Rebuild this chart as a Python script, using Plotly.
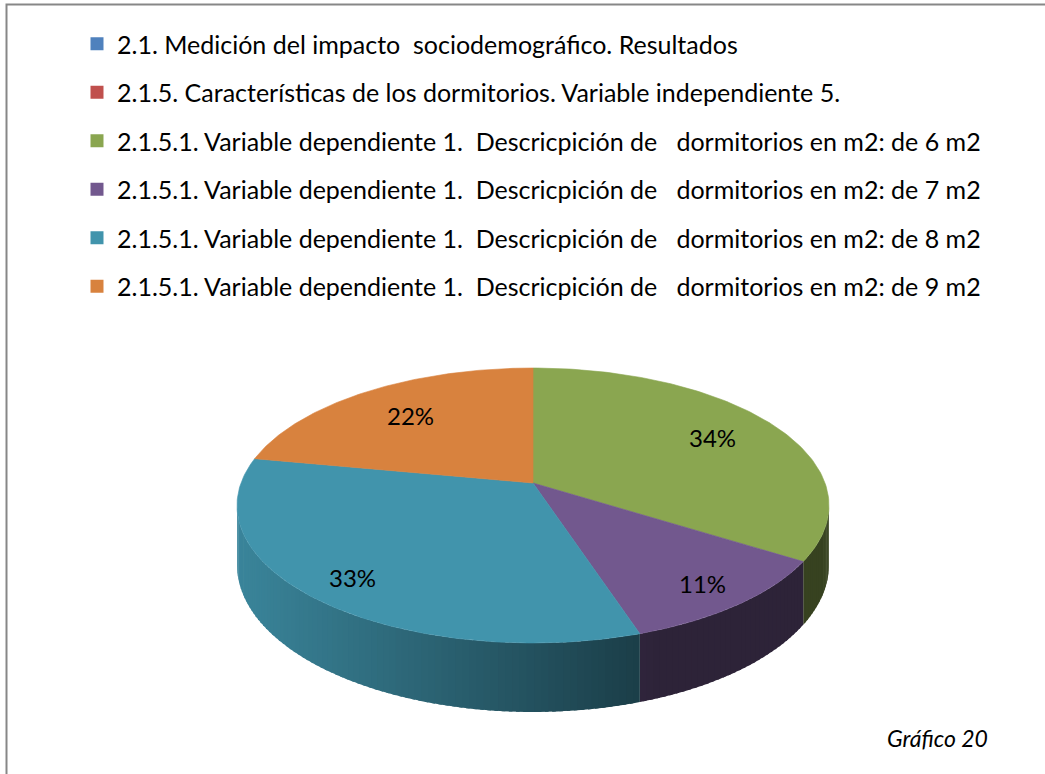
import numpy as np
import plotly.graph_objects as go

# ---------------- data ----------------
categories = [
    "2.1. Medición del impacto\u00a0 sociodemográfico. Resultados",
    "2.1.5. Características de los dormitorios. Variable independiente 5.",
    "2.1.5.1. Variable dependiente 1.\u00a0 Descricpición de\u00a0\u00a0 dormitorios en m2: de 6 m2",
    "2.1.5.1. Variable dependiente 1.\u00a0 Descricpición de\u00a0\u00a0 dormitorios en m2: de 7 m2",
    "2.1.5.1. Variable dependiente 1.\u00a0 Descricpición de\u00a0\u00a0 dormitorios en m2: de 8 m2",
    "2.1.5.1. Variable dependiente 1.\u00a0 Descricpición de\u00a0\u00a0 dormitorios en m2: de 9 m2",
]
values = [0, 0, 34, 11, 33, 22]
colors = ["#4F81BD", "#C0504D", "#8AA650", "#72588E", "#4194AC", "#D8823E"]
caption = "Gráfico 20"

# ---------------- geometry (layout, pixel-like units) ----------------
W, H = 1045, 774
CX, CY = 533, 483          # projected pie centre
R, T, P = 292, 133.8, 0.1636  # radius x, radius y, perspective
D = 57.7                    # wall depth

FONT = "Lato"


def proj(theta, drop=0.0, r=1.0):
    u = r * np.sin(theta)
    v = -r * np.cos(theta)
    s = 1.0 / (1.0 - P * v)
    return CX + R * u * s, CY + T * v * s + D * s * drop


def hex2rgb(h):
    h = h.lstrip("#")
    return tuple(int(h[i:i + 2], 16) for i in (0, 2, 4))


def shade(hexcol, x):
    f = max(0.40, 0.90 - 0.48 * (x - 237) / 403)
    r, g, b = hex2rgb(hexcol)
    return "rgb(%d,%d,%d)" % (r * f, g * f, b * f)


fig = go.Figure()

total = float(sum(values))
fracs = [v / total for v in values]
starts = np.cumsum([0] + fracs[:-1]) * 2 * np.pi
ends = np.cumsum(fracs) * 2 * np.pi

theta_r = np.arccos(-P)            # right silhouette
theta_l = 2 * np.pi - theta_r      # left silhouette
OVER = np.radians(0.6)

# ---- side walls ----
for a0, a1, col, v in zip(starts, ends, colors, values):
    if v <= 0:
        continue
    lo, hi = max(a0, theta_r), min(a1, theta_l)
    if hi <= lo:
        continue
    n = max(2, int(np.ceil((hi - lo) / np.radians(1.2))))
    edges = np.linspace(lo, hi, n + 1)
    for k, (e0, e1) in enumerate(zip(edges[:-1], edges[1:])):
        e1x = min(e1 + OVER, hi) if k < n - 1 else e1
        th = np.linspace(e0, e1x, 4)
        xt, yt = proj(th)
        xb, yb = proj(th[::-1], drop=1.0)
        xs = np.concatenate([xt, xb, xt[:1]])
        ys = np.concatenate([yt, yb, yt[:1]])
        c = shade(col, float(np.mean(xt)))
        fig.add_trace(go.Scatter(x=xs, y=ys, mode="lines", fill="toself",
                                 fillcolor=c, line=dict(width=0),
                                 hoverinfo="skip", showlegend=False))

# ---- top faces ----
for a0, a1, col, v, name in zip(starts, ends, colors, values, categories):
    if v <= 0:
        continue
    th = np.linspace(a0, a1, 120)
    xa, ya = proj(th)
    xs = np.concatenate([[CX], xa, [CX]])
    ys = np.concatenate([[CY], ya, [CY]])
    fig.add_trace(go.Scatter(x=xs, y=ys, mode="lines", fill="toself",
                             fillcolor=col, line=dict(color=col, width=0.6),
                             hoverinfo="text", text=f"{v}%", showlegend=False))

# ---- data labels ----
for a0, a1, v in zip(starts, ends, values):
    if v <= 0:
        continue
    mid = (a0 + a1) / 2
    rl = 0.78 + 0.08 * (-np.cos(mid))
    lx, ly = proj(mid, r=rl)
    fig.add_annotation(x=lx, y=ly, text=f"{v}%", showarrow=False,
                       font=dict(family=FONT, size=24, color="black"),
                       xanchor="center", yanchor="middle")

# ---- legend entries ----
for i, (name, col) in enumerate(zip(categories, colors)):
    fig.add_trace(go.Scatter(x=[None], y=[None], mode="markers", name=name,
                             legendgroup=f"g{i}",
                             marker=dict(symbol="square", size=13, color=col)))

fig.add_annotation(x=990, y=738, text=f"<i>{caption}</i>", showarrow=False,
                   font=dict(family=FONT, size=23, color="black"),
                   xanchor="right", yanchor="middle")

fig.add_shape(type="rect", xref="paper", yref="paper",
              x0=6.5 / W, y0=-0.02, x1=1.02, y1=1 - 4.5 / H,
              line=dict(color="#878787", width=2), fillcolor="rgba(0,0,0,0)")

fig.update_layout(
    width=W, height=H,
    margin=dict(l=0, r=0, t=0, b=0),
    paper_bgcolor="white", plot_bgcolor="white",
    xaxis=dict(range=[0, W], visible=False, fixedrange=True),
    yaxis=dict(range=[H, 0], visible=False, fixedrange=True),
    showlegend=True,
    legend=dict(x=77 / W, y=1 - 21 / H, xanchor="left", yanchor="top",
                font=dict(family=FONT, size=25, color="black"),
                tracegroupgap=13, bgcolor="rgba(0,0,0,0)", traceorder="grouped"),
)

fig.write_html("out.html", config={"displayModeBar": False},
               post_script="document.body.style.margin='0px';")
